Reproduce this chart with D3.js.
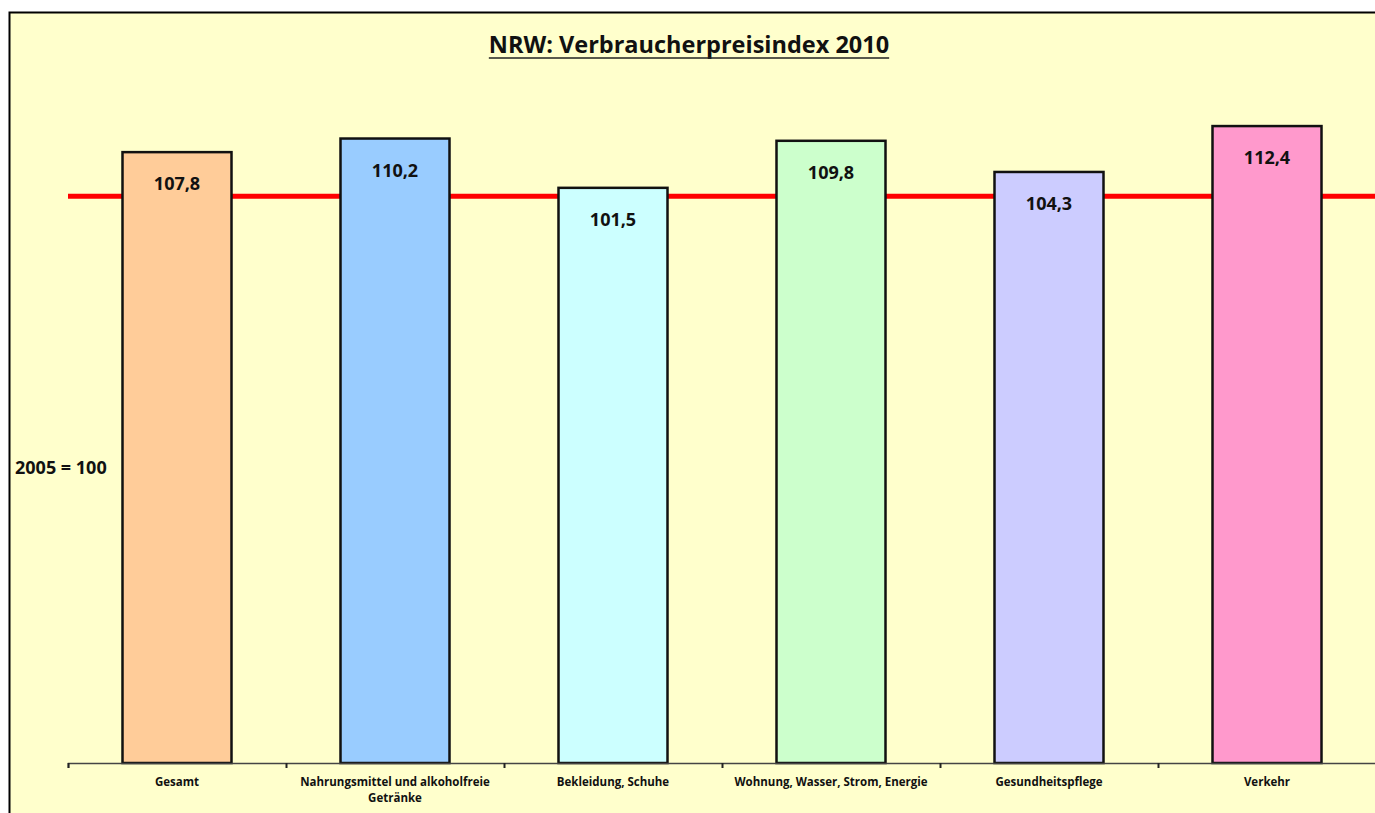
<!DOCTYPE html>
<html>
<head>
<meta charset="utf-8">
<script src="https://cdn.jsdelivr.net/npm/d3@7"></script>
<style>
  body { margin: 0; background: #fff; }
  svg { display: block; }
  text { font-family: "Open Sans", "Noto Sans", sans-serif; font-weight: bold; fill: #111; }
</style>
</head>
<body>
<svg id="canvas" width="1375" height="813"></svg>
<script>
let categories = [
	['Gesamt'],
	['Nahrungsmittel und alkoholfreie', 'Getränke'],
	['Bekleidung, Schuhe'],
	['Wohnung, Wasser, Strom, Energie'],
	['Gesundheitspflege'],
	['Verkehr']
];
let values = [107.8, 110.2, 101.5, 109.8, 104.3, 112.4];
let barColors = ['#FFCC99', '#99CCFF', '#CCFFFF', '#CCFFCC', '#CCCCFF', '#FF99CC'];
let baseValue = 100;
let title = 'NRW: Verbraucherpreisindex 2010';
let baseLabel = '2005 = 100';

let canvas = d3.select('#canvas');

// chart frame
canvas.append('rect')
	.attr('x', 9.5).attr('y', 12.5)
	.attr('width', 1400).attr('height', 900)
	.attr('fill', '#FFFFCC')
	.attr('stroke', '#000')
	.attr('stroke-width', 2);

let plot = { left: 68, right: 1376, top: 83, bottom: 763 };

let x = d3.scaleBand()
	.domain(d3.range(values.length))
	.range([plot.left, plot.right])
	.paddingInner(0.5)
	.paddingOuter(0.25);

let y = d3.scaleLinear()
	.domain([0, 120])
	.range([plot.bottom, plot.top]);

// reference line at 100
canvas.append('line')
	.attr('x1', plot.left).attr('x2', 1375)
	.attr('y1', y(baseValue)).attr('y2', y(baseValue))
	.attr('stroke', '#FF0000')
	.attr('stroke-width', 5);

// bars
canvas.selectAll('rect.bar')
	.data(values)
	.enter()
	.append('rect')
	.attr('class', 'bar')
	.attr('x', (d, i) => x(i))
	.attr('y', (d) => y(d))
	.attr('width', x.bandwidth())
	.attr('height', (d) => y(0) - y(d))
	.attr('fill', (d, i) => barColors[i])
	.attr('stroke', '#111')
	.attr('stroke-width', 2.5);

// value labels
canvas.selectAll('text.value')
	.data(values)
	.enter()
	.append('text')
	.attr('class', 'value')
	.attr('x', (d, i) => x(i) + x.bandwidth() / 2)
	.attr('y', (d) => y(d) + 38)
	.attr('text-anchor', 'middle')
	.attr('font-size', 18)
	.text((d) => d.toFixed(1).replace('.', ','));

// x axis
let xAxis = d3.scaleLinear().domain([0, values.length]).range([plot.left, plot.right]);
let axis = canvas.append('g')
	.attr('transform', `translate(0, ${plot.bottom})`)
	.call(d3.axisBottom(xAxis).ticks(values.length).tickSize(5).tickFormat(''));
axis.select('.domain').attr('stroke', '#444').attr('stroke-width', 1.5);
axis.selectAll('.tick line').attr('stroke', '#222').attr('stroke-width', 2);

// category labels
canvas.selectAll('text.cat')
	.data(categories)
	.enter()
	.append('text')
	.attr('class', 'cat')
	.attr('x', (d, i) => x(i) + x.bandwidth() / 2)
	.attr('y', 786)
	.attr('text-anchor', 'middle')
	.attr('font-size', 11.5)
	.selectAll('tspan')
	.data((d) => d)
	.enter()
	.append('tspan')
	.attr('x', function () { return d3.select(this.parentNode).attr('x'); })
	.attr('dy', (d, i) => (i === 0 ? 0 : 16))
	.text((d) => d);

// title
let titleText = canvas.append('text')
	.attr('x', 689)
	.attr('y', 53)
	.attr('text-anchor', 'middle')
	.attr('font-size', 23.5)
	.text(title);
let tb = titleText.node().getBBox();
canvas.append('line')
	.attr('x1', tb.x).attr('x2', tb.x + tb.width)
	.attr('y1', 58).attr('y2', 58)
	.attr('stroke', '#222')
	.attr('stroke-width', 1.5);

// base label
canvas.append('text')
	.attr('x', 15)
	.attr('y', 474)
	.attr('font-size', 18)
	.text(baseLabel);
</script>
</body>
</html>
